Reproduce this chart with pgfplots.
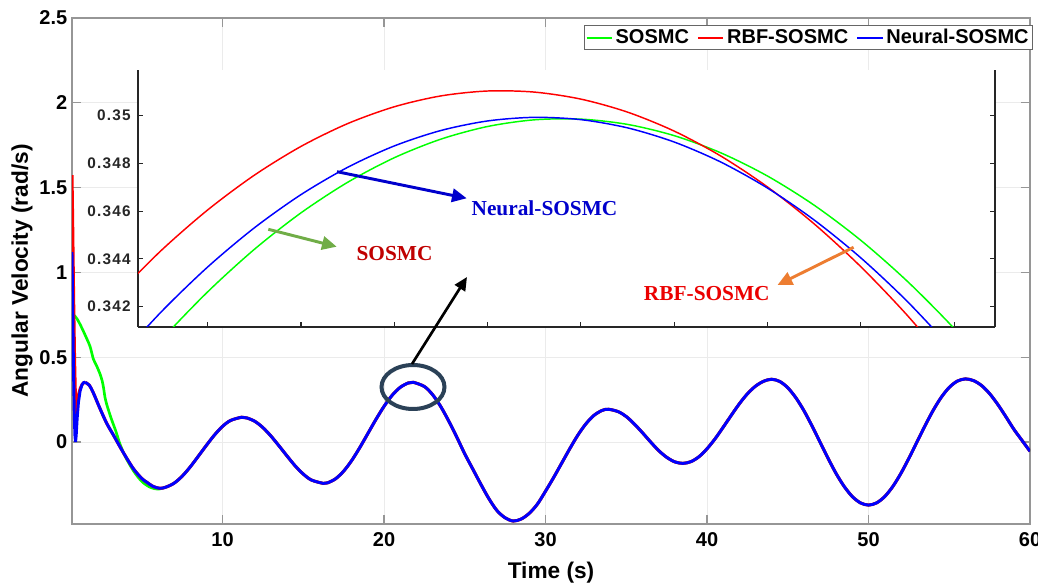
\documentclass[border=0pt]{standalone}
\usepackage{fontspec}
\setmainfont{Liberation Sans}
\newfontfamily\serifb{Liberation Serif}
\newfontfamily\insetfont[LetterSpace=8]{Liberation Sans}
\usepackage{pgfplots}
\pgfplotsset{compat=1.18}
\usepackage{pgfplotstable}
\usetikzlibrary{arrows.meta}

\definecolor{mgreen}{RGB}{0,255,0}
\definecolor{mred}{RGB}{255,0,0}
\definecolor{mblue}{RGB}{0,0,255}
\definecolor{ellc}{RGB}{43,65,87}
\definecolor{arrgreen}{RGB}{112,173,71}
\definecolor{arrorange}{RGB}{237,125,49}
\definecolor{txtblue}{RGB}{0,0,204}
\definecolor{txtdred}{RGB}{192,0,0}
\definecolor{txtred}{RGB}{235,0,0}
\definecolor{axgray}{RGB}{150,150,150}
\definecolor{gridgray}{RGB}{235,235,235}

\pgfplotstableread{
t v
0.68 0.755
0.8 0.748
1.0 0.725
1.2 0.69
1.4 0.65
1.6 0.608
1.8 0.563
2.0 0.49
2.2 0.45
2.4 0.405
2.55 0.36
2.65 0.31
2.72 0.265
2.85 0.215
3.0 0.17
3.14 0.13
3.4 0.062
3.65 -0.012
4.0 -0.09
4.5 -0.172
5.0 -0.232
5.5 -0.266
6.0 -0.278
6.5 -0.266
}\greenInit

\pgfplotstableread{
t v
0.68 1.574
0.72 1.30
0.78 0.85
0.84 0.48
0.89 0.27
0.93 0.172
0.97 0.19
1.03 0.245
1.1 0.285
1.2 0.318
1.3 0.338
1.4 0.349
1.49 0.352
}\redInit

\pgfplotstableread{
t v
0.68 1.12
0.72 0.82
0.77 0.45
0.82 0.17
0.86 0.04
0.90 0.0
0.94 0.04
1.0 0.14
1.08 0.235
1.18 0.30
1.3 0.338
1.4 0.35
1.49 0.352
}\blueInit

\pgfplotstableread{
t v
1.49 0.352
1.75 0.335
2.0 0.29
2.4 0.20
2.83 0.11
3.25 0.04
3.65 -0.028
4.0 -0.085
4.5 -0.16
5.0 -0.215
5.31 -0.237
5.7 -0.262
6.13 -0.273
6.5 -0.266
7.0 -0.243
7.5 -0.202
8.0 -0.147
8.5 -0.084
9.0 -0.020
9.5 0.041
10.0 0.092
10.5 0.127
11.19 0.146
11.5 0.142
12.0 0.122
12.5 0.085
13.0 0.035
13.5 -0.023
14.0 -0.083
14.5 -0.141
15.0 -0.189
15.5 -0.224
16.24 -0.244
16.5 -0.241
17.0 -0.217
17.5 -0.172
18.0 -0.109
18.5 -0.033
19.0 0.050
19.5 0.133
20.0 0.210
20.5 0.275
21.0 0.322
21.5 0.348
21.81 0.352
22.5 0.327
23.0 0.280
23.5 0.211
24.0 0.125
24.5 0.030
25.0 -0.070
25.5 -0.160
26.0 -0.250
26.5 -0.335
27.0 -0.405
27.5 -0.447
28.0 -0.466
28.5 -0.454
29.0 -0.420
29.5 -0.366
30.0 -0.290
30.5 -0.210
31.0 -0.125
31.5 -0.040
32.0 0.040
32.5 0.107
33.0 0.157
33.5 0.186
33.89 0.193
34.5 0.179
35.0 0.150
35.5 0.106
36.0 0.055
36.5 0.001
37.0 -0.050
37.5 -0.090
38.0 -0.117
38.5 -0.126
39.0 -0.116
39.5 -0.087
40.0 -0.040
40.5 0.019
41.0 0.087
41.5 0.157
42.0 0.225
42.5 0.284
43.0 0.329
43.5 0.358
44.0 0.370
44.5 0.357
45.0 0.320
45.5 0.261
46.0 0.185
46.5 0.095
47.0 -0.001
47.5 -0.097
48.0 -0.187
48.5 -0.263
49.0 -0.322
49.5 -0.359
50.0 -0.372
50.5 -0.359
51.0 -0.322
51.5 -0.263
52.0 -0.186
52.5 -0.096
53.0 0.000
53.5 0.096
54.0 0.186
54.5 0.263
55.0 0.322
55.5 0.359
56.0 0.372
56.5 0.362
57.0 0.333
57.5 0.285
58.0 0.222
58.5 0.150
59.0 0.075
59.5 0.010
60.0 -0.055
}\common

\pgfplotstableread{
x y
0 0.342394
0.5 0.344349
1 0.346054
1.5 0.347509
2 0.348714
2.5 0.349669
3 0.350374
3.5 0.350829
4 0.351034
4.5 0.350989
5 0.350694
5.5 0.350149
6 0.349354
6.5 0.348309
7 0.347014
7.5 0.345469
8 0.343674
8.5 0.341629
9 0.339334
}\insR

\pgfplotstableread{
x y
0 0.339642
0.5 0.341777
1 0.343665
1.5 0.345304
2 0.346695
2.5 0.347838
3 0.348734
3.5 0.349381
4 0.349780
4.5 0.349931
5 0.349835
5.5 0.349490
6 0.348897
6.5 0.348057
7 0.346968
7.5 0.345631
8 0.344046
8.5 0.342214
9 0.340133
}\insB

\pgfplotstableread{
x y
0 0.338316
0.5 0.340595
1 0.342624
1.5 0.344403
2 0.345932
2.5 0.347211
3 0.348240
3.5 0.349019
4 0.349548
4.5 0.349827
5 0.349856
5.5 0.349635
6 0.349164
6.5 0.348443
7 0.347472
7.5 0.346251
8 0.344780
8.5 0.343059
9 0.341088
9.5 0.338867
}\insG

\begin{document}
\begin{tikzpicture}
\path[use as bounding box] (-54pt,-45.75pt) rectangle (724.5pt,393pt);

\begin{axis}[
  name=main, at={(0pt,0pt)}, anchor=south west,
  scale only axis, width=718.5pt, height=379.5pt,
  xmin=0.68, xmax=60, ymin=-0.4835, ymax=2.5,
  xtick={10,20,30,40,50,60},
  ytick={0,0.5,1,1.5,2,2.5},
  axis line style={axgray, line width=0.8pt},
  tick style={axgray, line width=0.8pt},
  major tick length=7pt,
  grid=major, grid style={gridgray, line width=0.6pt},
  /pgf/number format/assume math mode=true,
  tick label style={font=\fontsize{15}{17}\selectfont\bfseries, text=black},
  xticklabel style={yshift=-3pt},
  xlabel={Time (s)}, ylabel={Angular Velocity (rad/s)},
  label style={font=\fontsize{17}{19}\selectfont\bfseries},
  xlabel style={at={(axis description cs:0.5,0)}, anchor=center, yshift=-36.75pt},
  ylabel style={at={(axis description cs:0,0.5)}, anchor=center, rotate=0, yshift=37.5pt},
  legend columns=3,
  legend cell align=left,
  legend image code/.code={\draw[#1, line width=1.6pt] (0pt,0pt) -- (19pt,0pt);},
  legend style={at={(axis description cs:1,1)}, anchor=north east,
    xshift=2.25pt, yshift=-5.25pt, draw=black!60, line width=0.6pt, fill=white,
    font=\fontsize{15}{17}\selectfont\bfseries, inner xsep=1pt, inner ysep=1pt,
    /tikz/every even column/.append style={column sep=4pt}},
]
\addplot[mgreen, line width=2pt, smooth] table[x=t,y=v] {\greenInit};
\addlegendentry{SOSMC}
\addplot[mgreen, line width=2pt, smooth, forget plot, restrict x to domain=6.5:60] table[x=t,y=v] {\common};
\addplot[mred, line width=2.3pt] table[x=t,y=v] {\redInit};
\addlegendentry{RBF-SOSMC}
\addplot[mred, line width=2.3pt, smooth, forget plot] table[x=t,y=v] {\common};
\addplot[mblue, line width=2.2pt] table[x=t,y=v] {\blueInit};
\addlegendentry{Neural-SOSMC}
\addplot[mblue, line width=2.2pt, smooth, forget plot] table[x=t,y=v] {\common};
\end{axis}

\begin{axis}[
  at={(49.5pt,147.75pt)}, anchor=south west,
  scale only axis, width=642.75pt, height=192.75pt,
  xmin=0.253, xmax=9.438, ymin=0.341151, ymax=0.351914,
  xtick={1,2,3,4,5,6,7,8,9}, xticklabels={},
  ytick={0.342,0.344,0.346,0.348,0.35},
  yticklabels={0.342,0.344,0.346,0.348,0.35},
  axis x line*=bottom, axis y line*=box,
  axis line style={-, black!85, line width=0.8pt},
  tick style={black!85, line width=0.8pt},
  major tick length=3.75pt,
  axis background/.style={fill=white},
  yticklabel style={font=\fontsize{11.5}{13}\selectfont\insetfont\bfseries, text=black!85, xshift=-2pt},
  clip mode=individual,
]
\addplot[mgreen, line width=1.1pt, smooth] table[x=x,y=y] {\insG};
\addplot[mred, line width=1.1pt, smooth] table[x=x,y=y] {\insR};
\addplot[mblue, line width=1.1pt, smooth] table[x=x,y=y] {\insB};
\end{axis}

\begin{scope}[x=0.75pt, y=-0.75pt, shift={(-54pt,393pt)}]
  \draw[ellc, line width=3pt] (413,387) ellipse [x radius=31.5, y radius=22];
  \draw[black, line width=2pt, -{Triangle[length=10pt,width=9pt]}] (412,364) -- (467,277);
  \draw[txtblue, line width=2.2pt, -{Triangle[length=11pt,width=10pt]}] (337,171.7) -- (466.7,198.3);
  \draw[arrgreen, line width=2.2pt, -{Triangle[length=11pt,width=10pt]}] (268.3,229.3) -- (336.7,246.7);
  \draw[arrorange, line width=2.2pt, -{Triangle[length=11pt,width=10pt]}] (853.6,247.3) -- (777.5,285);
  \node[txtblue, font=\fontsize{16}{18}\selectfont\serifb\bfseries] at (544.5,208) {Neural-SOSMC};
  \node[txtdred, font=\fontsize{16}{18}\selectfont\serifb\bfseries] at (394.5,254) {SOSMC};
  \node[txtred, font=\fontsize{16}{18}\selectfont\serifb\bfseries] at (706.8,294) {RBF-SOSMC};
\end{scope}
\end{tikzpicture}
\end{document}
